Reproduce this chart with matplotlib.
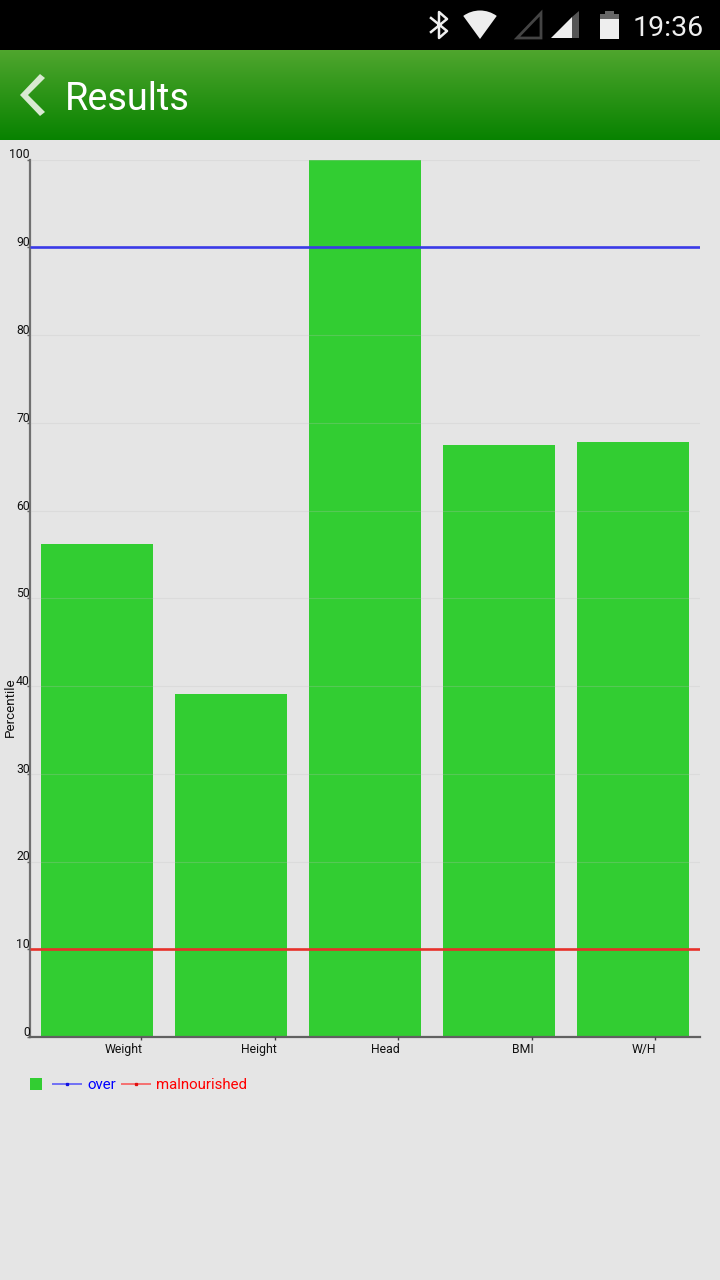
import numpy as np
import matplotlib
matplotlib.use("Agg")
import matplotlib.pyplot as plt
from matplotlib.patches import Polygon, Rectangle, Wedge
from matplotlib.transforms import ScaledTranslation

categories = ["Weight", "Height", "Head", "BMI", "W/H"]
percentiles = [56.2, 39.1, 100, 67.5, 67.8]
over_level = 90
malnourished_level = 10
y_ticks = list(range(0, 101, 10))

BG = "#e5e5e5"
GREEN = "#32cd32"
plt.rcParams["font.family"] = ["Roboto", "DejaVu Sans"]

W, H = 720, 1280
fig = plt.figure(figsize=(W / 100, H / 100), dpi=100, facecolor=BG)

# pixel-space overlay for the app chrome
ui = fig.add_axes([0, 0, 1, 1], zorder=0)
ui.set_xlim(0, W)
ui.set_ylim(H, 0)
ui.axis("off")
ui.add_patch(Rectangle((0, 0), W, 50, color="black", lw=0))
grad = np.linspace(0, 1, 90)[:, None, None]
top = np.array([0.31, 0.65, 0.18])[None, None, :]
bot = np.array([0.03, 0.51, 0.0])[None, None, :]
ui.imshow(top * (1 - grad) + bot * grad, extent=(0, W, 140, 50), aspect="auto", zorder=1)
ui.set_xlim(0, W)
ui.set_ylim(H, 0)
ui.add_patch(Polygon([[20, 95], [40, 74], [45, 78], [28, 95], [45, 112], [40, 116]],
                     closed=True, color="#d9e9d2", lw=0, zorder=2))
ui.text(64.5, 99, "Results", color="white", fontsize=27.3, va="center", ha="left", zorder=2)
ui.text(704, 28.5, "19:36", color="#eeeeee", fontsize=20.5, va="center", ha="right", zorder=2)
# status icons
ui.plot([431, 447, 439, 439, 447, 431], [18, 31, 38, 12, 19, 32], color="#eeeeee", lw=1.8, zorder=2)
ui.add_patch(Wedge((480, 39), 28.5, 234, 306, color="#eeeeee", lw=0, zorder=2))
ui.add_patch(Polygon([[517, 38], [541, 13], [541, 38]], closed=True, fill=False, ec="#444444", lw=2, zorder=2))
ui.add_patch(Polygon([[551, 38], [572, 17], [572, 38]], closed=True, color="#eeeeee", lw=0, zorder=2))
ui.add_patch(Polygon([[572, 17], [579, 11], [579, 38], [572, 38]], closed=True, color="#555555", lw=0, zorder=2))
ui.add_patch(Rectangle((600, 14), 19, 25, color="#eeeeee", lw=0, zorder=2))
ui.add_patch(Rectangle((600, 14), 19, 5, color="#666666", lw=0, zorder=3))
ui.add_patch(Rectangle((605, 10.5), 9, 4, color="#666666", lw=0, zorder=3))

# main chart
ax_left, ax_right, ax_top, ax_bottom = 30, 700, 159.5, 1037
ax = fig.add_axes([ax_left / W, 1 - ax_bottom / H, (ax_right - ax_left) / W, (ax_bottom - ax_top) / H], zorder=1)
ax.patch.set_alpha(0)
x = np.arange(len(categories))
ax.bar(x, percentiles, width=112 / 134, color=GREEN, zorder=1)
ax.set_xlim(-0.5, len(categories) - 0.5)
ax.set_ylim(0, 100)
ax.set_yticks(y_ticks)
ax.set_yticklabels([str(v) for v in y_ticks], fontsize=8.8, color="#111111", va="bottom")
ax.grid(axis="y", color="#c0c0c0", lw=0.8, alpha=0.25, zorder=2)
ax.set_axisbelow(False)
ax.tick_params(axis="y", length=2, width=1, color="#666666", pad=-2)
tick_shift = [44 / 134, 44 / 134, 33 / 134, 33 / 134, 22 / 134]
ax.set_xticks(x + np.array(tick_shift))
ax.set_xticklabels(categories, fontsize=8.8, color="#111111", ha="right")
ax.tick_params(axis="x", length=2.5, width=1, color="#444444", pad=1.5)
for lab in ax.get_yticklabels():
    lab.set_transform(lab.get_transform() + ScaledTranslation(0, -2 / 100, fig.dpi_scale_trans))
for lab in ax.get_xticklabels():
    lab.set_transform(lab.get_transform() + ScaledTranslation(1.5 / 100, 0, fig.dpi_scale_trans))
for s in ("top", "right"):
    ax.spines[s].set_visible(False)
ax.spines["left"].set_color("#707070")
ax.spines["bottom"].set_color("#606060")
ax.spines["left"].set_linewidth(1.6)
ax.spines["bottom"].set_linewidth(1.6)
ax.axhline(over_level, color="#3a3ae8", lw=1.9, zorder=3, solid_capstyle="butt")
ax.axhline(malnourished_level, color="#e8302a", lw=1.9, zorder=3, solid_capstyle="butt")
ax.set_ylabel("Percentile", fontsize=9.6, color="#111111", labelpad=0)
ax.yaxis.set_label_coords((17 - ax_left) / (ax_right - ax_left), (ax_bottom - 707) / (ax_bottom - ax_top))

# legend
ui2 = fig.add_axes([0, 0, 1, 1], zorder=2)
ui2.set_xlim(0, W)
ui2.set_ylim(H, 0)
ui2.axis("off")
ui2.add_patch(Rectangle((30, 1078), 12, 12, color=GREEN, lw=0))
ui2.plot([52, 82], [1084, 1084], color="#7070f5", lw=1.4, solid_capstyle="butt")
ui2.plot([67], [1084], "s", ms=1.4, color="#1010e0")
ui2.text(87, 1085, "over", color="#0000ff", fontsize=10.8, va="center", ha="left")
ui2.plot([121, 151], [1084, 1084], color="#f57070", lw=1.4, solid_capstyle="butt")
ui2.plot([136], [1084], "s", ms=1.4, color="#e01010")
ui2.text(156, 1085, "malnourished", color="#ff0000", fontsize=10.8, va="center", ha="left")

fig.savefig("out.png", dpi=100, facecolor=BG)
